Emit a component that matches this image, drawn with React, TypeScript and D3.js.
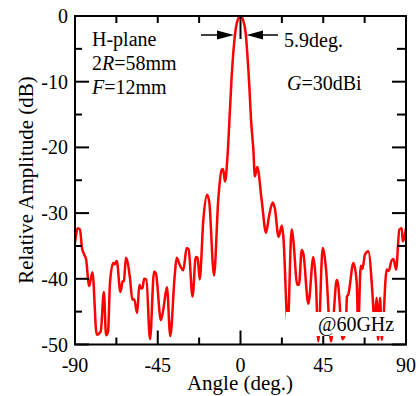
import { useEffect, useRef } from 'react'
import * as d3 from 'd3'

const W = 420
const H = 396
const PLOT = { left: 75, right: 406, top: 16, bottom: 344.5 }

// measured H-plane pattern (angle in deg., relative amplitude in dB)
const ANGLES = [
  -90, -88.5, -87.3, -86.2, -85, -84, -82.3, -80.5, -78.2, -76, -74.3, -73.1, -72, -71,
  -69.2, -68.5, -67.3, -65.3, -64.1, -63.4, -62.3, -60.1, -58.8, -57.8, -56.2, -55, -54,
  -53.3, -52.4, -51.2, -49.2, -47, -46, -43.3, -42, -40, -38.2, -35.8, -34.7, -33, -31.1,
  -29.3, -28.2, -26.1, -24.3, -23.3, -22.2, -20.2, -18.2, -17, -14.4, -12.1, -10.2, -9.5,
  -8.4, -7.2, -6.4, -4.8, -2.9, -1.5, 0, 1.4, 2.8, 4.5, 5.9, 7, 7.8, 9.1, 11.5, 13.9, 15.5,
  17.5, 18.7, 20.7, 22.5, 23.3, 25.7, 27.8, 28.5, 30.9, 31.8, 33.3, 34.2, 36.9, 39.6, 41,
  42.3, 44.7, 46.5, 49.2, 50.5, 52.3, 53, 55.5, 57.2, 57.9, 58.6, 61.4, 63.2, 64, 65.4,
  66.3, 67.7, 69.5, 71.9, 72.8, 74, 74.8, 75.9, 76.8, 79.5, 80.6, 82.2, 83.2, 84.6, 86.4,
  87.7, 88.2, 90,
]
const AMPLITUDES = [
  -34.5, -32.3, -32.5, -35.3, -36.3, -37, -41.1, -39, -48.5, -48, -42, -48.6, -48, -40.7,
  -37.6, -37.8, -37.3, -42, -40.4, -40.3, -36.8, -39.9, -43.2, -43.1, -45.2, -40.9, -41.5,
  -41.4, -40, -40.1, -49.2, -38.9, -39.2, -46.3, -44.7, -41.3, -48.7, -39.6, -36.8, -37.9, -38.7,
  -35.3, -35.5, -42.7, -36.7, -36.8, -40.1, -31, -27.2, -28.3, -39.5, -28, -23.4, -23.3,
  -25.2, -21.9, -18, -9.2, -2.6, -0.6, 0, -0.6, -2.6, -9.2, -16.5, -20.4, -24.4, -23, -28, -33, -30.5,
  -28.4, -29.3, -33.6, -31.9, -33.6, -47, -32.5, -33.5, -40.9, -40.9, -35.6, -36.2, -43.8, -36.7, -40.6,
  -49.5, -35.3, -38.5, -49.5, -46, -40.2, -40.7, -49.2, -48, -42.7, -42.4, -37.6, -40.6, -47.5, -38,
  -38.5, -36.3, -35.8, -42.9, -47, -42.9, -49.3, -42.9, -49.3, -38.6, -38.8, -37.2, -37, -38.6, -32.5,
  -32.3, -34.3, -32.3,
]

const X_MAJOR = [-90, -45, 0, 45, 90]
const X_MINOR = [-67.5, -22.5, 22.5, 67.5]
const Y_MAJOR = [0, -10, -20, -30, -40, -50]
const Y_MINOR = [-5, -15, -25, -35, -45]

const FONT = '"Liberation Serif", "DejaVu Serif", serif'

export default function App() {
  const svgRef = useRef<SVGSVGElement>(null)

  useEffect(() => {
    if (!svgRef.current) return
    const svg = d3.select(svgRef.current)
    svg.selectAll('*').remove()

    const x = d3.scaleLinear().domain([-90, 90]).range([PLOT.left, PLOT.right])
    const y = d3.scaleLinear().domain([-50, 0]).range([PLOT.bottom, PLOT.top])
    const pts = ANGLES.map((a, i) => ({ a, v: AMPLITUDES[i] }))

    svg.append('defs').append('clipPath').attr('id', 'plot-clip')
      .append('rect')
      .attr('x', PLOT.left).attr('y', PLOT.top)
      .attr('width', PLOT.right - PLOT.left).attr('height', PLOT.bottom - PLOT.top)

    // curve
    const line = d3.line<{ a: number; v: number }>()
      .x(d => x(d.a)).y(d => y(d.v))
      .curve(d3.curveMonotoneX)
    svg.append('path').datum(pts).attr('d', line)
      .attr('clip-path', 'url(#plot-clip)')
      .attr('fill', 'none').attr('stroke', '#ff0000').attr('stroke-width', 2.5)
      .attr('stroke-linejoin', 'round')

    // ticks
    const tk = svg.append('g').attr('stroke', '#000').attr('stroke-width', 2)
    X_MAJOR.forEach(v => {
      tk.append('line').attr('x1', x(v)).attr('x2', x(v)).attr('y1', PLOT.bottom).attr('y2', PLOT.bottom - 14)
    })
    X_MINOR.forEach(v => {
      tk.append('line').attr('x1', x(v)).attr('x2', x(v)).attr('y1', PLOT.bottom).attr('y2', PLOT.bottom - 7)
    })
    ;[-67.5, -45, -22.5, 22.5, 45, 67.5].forEach(v => {
      tk.append('line').attr('x1', x(v)).attr('x2', x(v)).attr('y1', PLOT.top).attr('y2', PLOT.top + 7)
    })
    tk.append('line').attr('x1', x(0)).attr('x2', x(0)).attr('y1', PLOT.top).attr('y2', PLOT.top + 23)
    Y_MAJOR.forEach(v => {
      tk.append('line').attr('x1', PLOT.left).attr('x2', PLOT.left + 14).attr('y1', y(v)).attr('y2', y(v))
      tk.append('line').attr('x1', PLOT.right).attr('x2', PLOT.right - 14).attr('y1', y(v)).attr('y2', y(v))
    })
    Y_MINOR.forEach(v => {
      tk.append('line').attr('x1', PLOT.left).attr('x2', PLOT.left + 7).attr('y1', y(v)).attr('y2', y(v))
      tk.append('line').attr('x1', PLOT.right).attr('x2', PLOT.right - 9).attr('y1', y(v)).attr('y2', y(v))
    })

    // white label box over the curve bottom
    svg.append('rect').attr('x', 286).attr('y', 312).attr('width', 110).attr('height', 24).attr('fill', '#fff')

    // frame
    svg.append('rect')
      .attr('x', PLOT.left).attr('y', PLOT.top)
      .attr('width', PLOT.right - PLOT.left).attr('height', PLOT.bottom - PLOT.top)
      .attr('fill', 'none').attr('stroke', '#000').attr('stroke-width', 2)

    // tick labels
    const lab = svg.append('g').attr('font-family', FONT).attr('font-size', 20).attr('fill', '#000')
    X_MAJOR.forEach(v => {
      lab.append('text').attr('x', x(v)).attr('y', 372).attr('text-anchor', 'middle').text(v)
    })
    Y_MAJOR.forEach(v => {
      lab.append('text').attr('x', 68).attr('y', y(v)).attr('dy', '0.35em')
        .attr('text-anchor', 'end').text(v)
    })
    lab.append('text').attr('x', 240).attr('y', 390).attr('font-size', 21)
      .attr('text-anchor', 'middle').text('Angle (deg.)')
    lab.append('text').attr('transform', 'translate(33,180) rotate(-90)').attr('font-size', 21)
      .attr('text-anchor', 'middle').text('Relative Amplitude (dB)')

    // annotations
    const ann = svg.append('g').attr('font-family', FONT).attr('font-size', 20).attr('fill', '#000')
    ann.append('text').attr('x', 92).attr('y', 46).text('H-plane')
    const t2 = ann.append('text').attr('x', 92).attr('y', 70)
    t2.append('tspan').text('2')
    t2.append('tspan').attr('font-style', 'italic').text('R')
    t2.append('tspan').text('=58mm')
    const t3 = ann.append('text').attr('x', 92).attr('y', 94)
    t3.append('tspan').attr('font-style', 'italic').text('F')
    t3.append('tspan').text('=12mm')
    ann.append('text').attr('x', 284).attr('y', 47).text('5.9deg.')
    const tg = ann.append('text').attr('x', 287).attr('y', 90)
    tg.append('tspan').attr('font-style', 'italic').text('G')
    tg.append('tspan').text('=30dBi')
    ann.append('text').attr('x', 318).attr('y', 331).text('@60GHz')

    // beamwidth arrows
    const ay = 35
    const arr = svg.append('g')
    arr.append('line').attr('x1', 201).attr('x2', 222).attr('y1', ay).attr('y2', ay).attr('stroke', '#000').attr('stroke-width', 1.5)
    arr.append('path').attr('d', `M217,${ay - 4.5} L234,${ay} L217,${ay + 4.5} Z`).attr('fill', '#000')
    arr.append('line').attr('x1', 258).attr('x2', 278).attr('y1', ay).attr('y2', ay).attr('stroke', '#000').attr('stroke-width', 1.5)
    arr.append('path').attr('d', `M263,${ay - 4.5} L246.5,${ay} L263,${ay + 4.5} Z`).attr('fill', '#000')
  }, [])

  return (
    <div style={{ position: 'fixed', left: 0, top: 0, width: W, height: H, background: '#fff' }}>
      <svg ref={svgRef} width={W} height={H} style={{ display: 'block' }} />
    </div>
  )
}
